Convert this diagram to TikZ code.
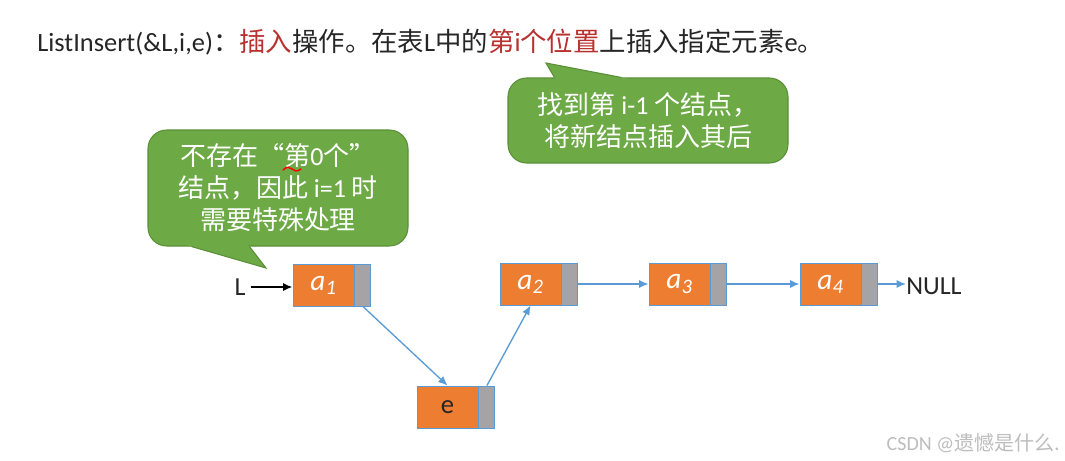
\documentclass[tikz,border=0pt]{standalone}
\usepackage{fontspec}
\setmainfont{Carlito}
\newfontfamily\cjk{Noto Sans CJK SC}
\usetikzlibrary{arrows.meta,calc}
\definecolor{ored}{HTML}{ED7D31}
\definecolor{pgray}{HTML}{A6A3A6}
\definecolor{bblue}{HTML}{5B9BD5}
\definecolor{cgreen}{HTML}{6DAA45}
\definecolor{cgreenb}{HTML}{5A8F38}
\definecolor{tred}{HTML}{B8312F}
\definecolor{tblack}{HTML}{262626}
\definecolor{wmgray}{HTML}{BDBDBD}
\begin{document}
\begin{tikzpicture}[x=0.75pt,y=-0.75pt,
  datbox/.style={draw=bblue, line width=0.7pt, fill=ored, minimum width=45.75pt,
    minimum height=31.5pt, inner sep=0pt, text=white,
    font=\fontsize{22}{22}\selectfont\itshape},
  ptrbox/.style={draw=bblue, line width=0.7pt, fill=pgray, minimum width=12pt,
    minimum height=31.5pt, inner sep=0pt, anchor=west},
  link/.style={draw=bblue, line width=1pt, -{Latex[length=7pt,width=6pt]}},
  callout/.style={draw=cgreenb, fill=cgreen, line width=0.8pt, rounded corners=14pt,
    text=white, align=center, inner sep=0pt, font=\fontsize{19.5}{24}\selectfont},
  plain/.style={text=tblack, inner sep=0pt, font=\fontsize{19.5}{22}\selectfont}
]
\useasboundingbox (0,0) rectangle (1065,461);
\fill[white] (0,0) rectangle (1065,461);

% title
\node[plain, anchor=base west, font=\fontsize{19.8}{22}\selectfont] (title) at (37,51)
 {ListInsert(\&L,i,e){\cjk ：}{\color{tred}\cjk 插入}{\cjk 操作。在表}L{\cjk 中的}{\color{tred}{\cjk 第}i{\cjk 个位置}}{\cjk 上插入指定元素}e{\cjk 。}};

% callout 1
\node[callout, minimum width=195pt, minimum height=87pt] (c1) at (278,188)
 {{\cjk 不存在“第}0{\cjk 个”}\\{\cjk 结点，因此} i=1 {\cjk 时}\\{\cjk 需要特殊处理}};
\coordinate (t1) at (266,268);
\coordinate (b1l) at ($(c1.south west)+(44,0)$);
\coordinate (b1r) at ($(c1.south west)+(102,0)$);
\fill[cgreen] (t1) -- ($(t1)!1.15!(b1l)$) -- ($(t1)!1.15!(b1r)$) -- cycle;
\draw[cgreenb, line width=0.8pt] (b1l) -- (t1) -- (b1r);
\draw[red, line width=1.1pt, line cap=round] (283,170) .. controls (287,166) and (290,167) .. (292,169) .. controls (294,171) and (297,172) .. (301,169);

% callout 2
\node[callout, minimum width=210pt, minimum height=63.75pt] (c2) at (648,120.5)
 {{\cjk 找到第} i-1 {\cjk 个结点，}\\{\cjk 将新结点插入其后}};
\coordinate (t2) at (546,63);
\coordinate (b2l) at ($(c2.north west)+(47,0)$);
\coordinate (b2r) at ($(c2.north west)+(114,0)$);
\fill[cgreen] (t2) -- ($(t2)!1.15!(b2l)$) -- ($(t2)!1.15!(b2r)$) -- cycle;
\draw[cgreenb, line width=0.8pt] (b2l) -- (t2) -- (b2r);

% nodes
\node[datbox] (a1) at (323.5,285) {a\textsubscript{1}};
\node[ptrbox] (a1p) at (a1.east) {};
\node[datbox] (a2) at (530.5,284) {a\textsubscript{2}};
\node[ptrbox] (a2p) at (a2.east) {};
\node[datbox] (a3) at (679.5,284) {a\textsubscript{3}};
\node[ptrbox] (a3p) at (a3.east) {};
\node[datbox] (a4) at (830.5,284) {a\textsubscript{4}};
\node[ptrbox] (a4p) at (a4.east) {};
\node[datbox, text=tblack, font=\fontsize{20}{22}\selectfont] (e) at (447.5,407) {e};
\node[ptrbox] (ep) at (e.east) {};

\node[plain] (L) at (240,287) {L};
\node[plain, anchor=west] (null) at (906,286) {NULL};

% connectors
\draw[line width=1.3pt, -{Latex[length=7pt,width=6pt]}] (L.east) ++(5,0) coordinate (Ls) (Ls) -- (a1.west |- Ls);
\draw[link] (a1p.south) -- (e.north);
\draw[link] (ep.north) -- (a2.south);
\draw[link] (a2p.east) -- (a3.west);
\draw[link] (a3p.east) -- (a4.west);
\draw[link] (a4p.east) -- (a4p.east -| null.west);

% watermark
\node[text=wmgray, inner sep=0pt, anchor=east, font=\fontsize{15}{16}\selectfont] (wm) at (1060,443) {CSDN @{\cjk 遗憾是什么.}};
\end{tikzpicture}
\end{document}
